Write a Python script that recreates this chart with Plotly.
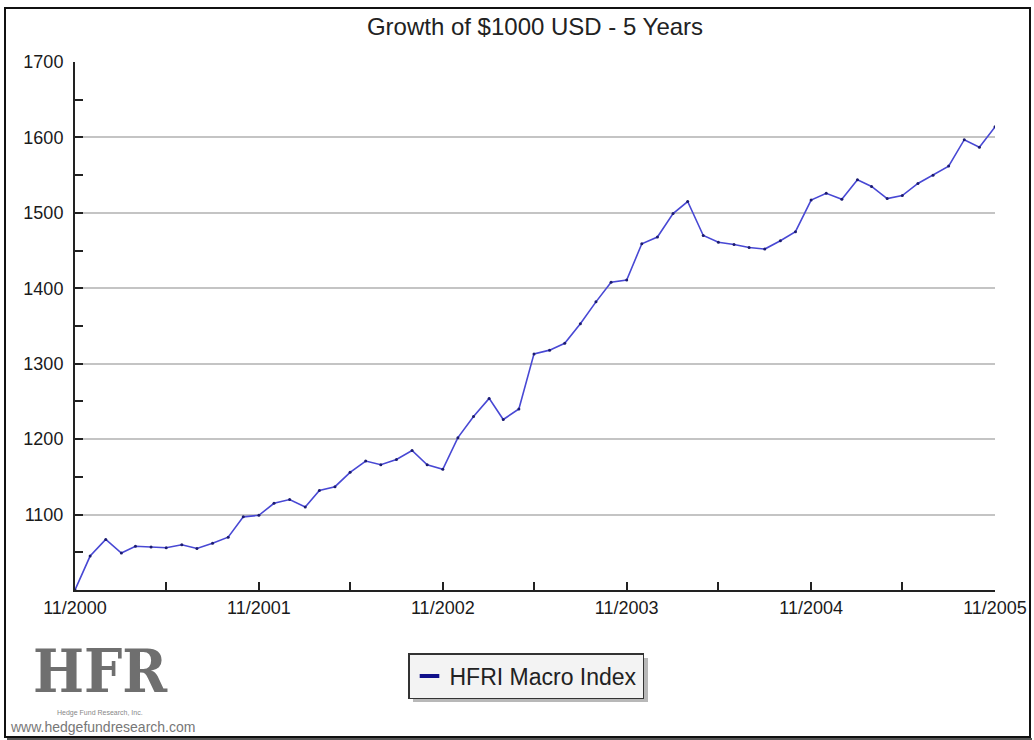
import plotly.graph_objects as go

# Monthly observations, 11/2000 .. 11/2005
months = [f"{2000 + (10 + i) // 12}-{(10 + i) % 12 + 1:02d}-01" for i in range(61)]
values = [
    1000, 1045, 1067, 1049, 1058, 1057, 1056, 1060, 1055, 1062,
    1070, 1097, 1099, 1115, 1120, 1110, 1132, 1137, 1156, 1171,
    1166, 1173, 1185, 1166, 1160, 1202, 1230, 1254, 1226, 1240,
    1313, 1318, 1327, 1353, 1382, 1408, 1411, 1459, 1468, 1499,
    1515, 1470, 1461, 1458, 1454, 1452, 1463, 1475, 1517, 1526,
    1518, 1544, 1535, 1519, 1523, 1539, 1550, 1562, 1597, 1587,
    1614,
]
series_name = "HFRI Macro Index"
title_text = "Growth of $1000 USD - 5 Years"
y_tickvals = [1100, 1200, 1300, 1400, 1500, 1600, 1700]
x_tickvals = ["2000-11-01", "2001-11-01", "2002-11-01", "2003-11-01", "2004-11-01", "2005-11-01"]
x_ticktext = ["11/2000", "11/2001", "11/2002", "11/2003", "11/2004", "11/2005"]

W, H = 1034, 740
L, R, T, B = 75, 39, 62, 150
PW, PH = W - L - R, H - T - B


def px_x(x):
    return (x - L) / PW


def px_y(y):
    return (H - B - y) / PH


fig = go.Figure()
fig.add_trace(go.Scatter(
    x=months, y=values, mode="lines+markers",
    line=dict(color="#4848d4", width=1.6),
    marker=dict(size=3, color="#1c1c70"),
    showlegend=False, hoverinfo="x+y",
))
# legend entry (short thick navy dash)
fig.add_trace(go.Scatter(
    x=[None], y=[None], mode="markers", name=series_name,
    marker=dict(symbol="line-ew", size=14, color="#10108a",
                line=dict(width=4, color="#10108a")),
))

tickfont = dict(family="Liberation Sans, Arial, sans-serif", size=18, color="#1a1a1a")

fig.update_layout(
    width=W, height=H,
    margin=dict(l=L, r=R, t=T, b=B, autoexpand=False),
    paper_bgcolor="white", plot_bgcolor="white",
    title=dict(text=title_text, x=535 / W, xanchor="center",
               y=1 - 27 / H, yanchor="middle",
               font=dict(family="Liberation Sans, Arial, sans-serif", size=24, color="#222")),
    xaxis=dict(
        type="date", range=["2000-11-01", "2005-11-01"], automargin=False,
        tickvals=x_tickvals, ticktext=x_ticktext,
        ticks="inside", ticklen=8, tickwidth=2, tickcolor="#222",
        showline=True, linecolor="#222", linewidth=2,
        showgrid=False, zeroline=False, tickfont=tickfont,
        minor=dict(tick0="2000-11-01", dtick="M6", ticks="inside", ticklen=8,
                   tickwidth=1.5, tickcolor="#222", showgrid=False),
    ),
    yaxis=dict(
        range=[1000, 1700], tickvals=y_tickvals, automargin=False,
        ticks="inside", ticklen=8, tickwidth=2, tickcolor="#222",
        showline=True, linecolor="#222", linewidth=2,
        showgrid=True, gridcolor="#c4c4c4", gridwidth=2,
        zeroline=False, tickfont=tickfont, ticklabelstandoff=6,
        minor=dict(tick0=1000, dtick=50, ticks="inside", ticklen=8,
                   tickwidth=1.5, tickcolor="#222", showgrid=False),
    ),
    legend=dict(
        x=px_x(526), y=px_y(653), xanchor="center", yanchor="top",
        bgcolor="#f3f3f3", bordercolor="#333", borderwidth=1.5,
        font=dict(family="Liberation Sans, Arial, sans-serif", size=23, color="#222"),
        itemwidth=30,
    ),
)

shapes = [
    # outer frame
    dict(type="rect", xref="paper", yref="paper",
         x0=px_x(5), x1=px_x(1030), y0=px_y(737), y1=px_y(8),
         line=dict(color="#111", width=2), layer="below"),
    # frame shadow bottom
    dict(type="line", xref="paper", yref="paper",
         x0=px_x(7), x1=px_x(1032), y0=px_y(739), y1=px_y(739),
         line=dict(color="#555", width=2)),
    # legend drop shadow
    dict(type="rect", xref="paper", yref="paper",
         x0=px_x(413), x1=px_x(648), y0=px_y(702), y1=px_y(658),
         fillcolor="#b8b8b8", line=dict(width=0), layer="below"),
]
fig.update_layout(shapes=shapes)

fig.add_annotation(text="HFR", xref="paper", yref="paper",
                   x=px_x(100), y=px_y(671), xanchor="center", yanchor="middle",
                   showarrow=False,
                   font=dict(family="DejaVu Serif Condensed, Liberation Sans Narrow, Liberation Serif, serif",
                             size=60, color="#6f6f6f", weight="bold"))
fig.add_annotation(text="Hedge Fund Research, Inc.", xref="paper", yref="paper",
                   x=px_x(100), y=px_y(713), xanchor="center", yanchor="middle",
                   showarrow=False,
                   font=dict(family="Liberation Sans, Arial, sans-serif", size=7, color="#888"))
fig.add_annotation(text="www.hedgefundresearch.com", xref="paper", yref="paper",
                   x=px_x(8), y=px_y(727), xanchor="left", yanchor="middle",
                   showarrow=False,
                   font=dict(family="Liberation Sans, Arial, sans-serif", size=14, color="#777"))

fig.write_html("out.html")
